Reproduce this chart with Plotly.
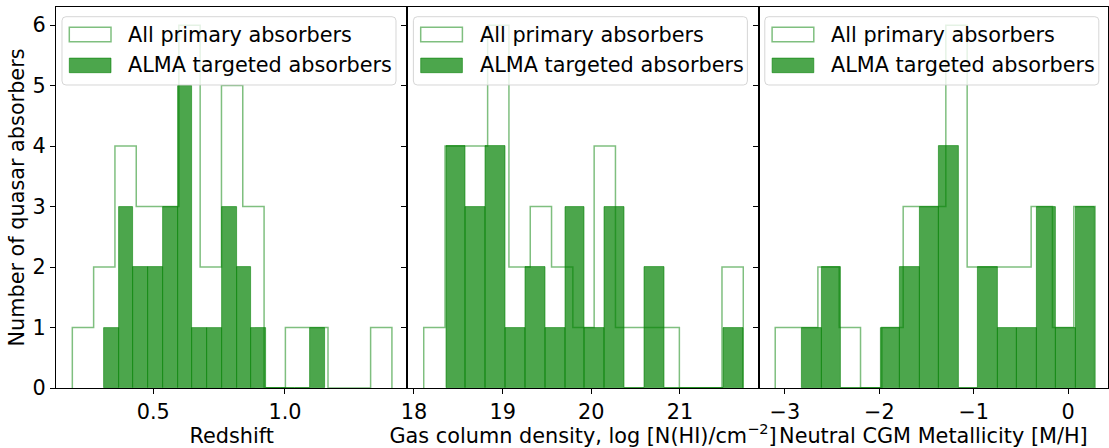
import numpy as np
import plotly.graph_objects as go
from plotly.subplots import make_subplots

# ---------------- data ----------------
n_bins = 15

z_all_range = [0.1926, 1.4062]
z_all_counts = [1, 2, 4, 3, 3, 6, 2, 5, 3, 0, 1, 1, 0, 0, 1]
z_alma_range = [0.3128, 1.1519]
z_alma_counts = [1, 3, 2, 2, 3, 5, 1, 1, 3, 2, 1, 0, 0, 0, 1]

nhi_all_range = [18.110, 21.714]
nhi_all_counts = [1, 4, 4, 6, 2, 3, 2, 1, 4, 1, 1, 1, 0, 0, 2]
nhi_alma_range = [18.361, 21.714]
nhi_alma_counts = [4, 3, 4, 1, 2, 1, 3, 1, 3, 0, 2, 0, 0, 0, 1]

met_all_range = [-3.103, 0.286]
met_all_counts = [1, 1, 2, 1, 0, 1, 3, 3, 6, 2, 2, 2, 3, 1, 3]
met_alma_range = [-2.817, 0.286]
met_alma_counts = [1, 2, 0, 0, 1, 2, 3, 4, 0, 2, 1, 1, 3, 1, 3]

x_titles = ["Redshift",
            "Gas column density, log [N(HI)/cm<sup>\u22122</sup>]",
            "Neutral CGM Metallicity [M/H]"]
y_title = "Number of quasar absorbers"

x_tickvals = [[0.5, 1.0], [18, 19, 20, 21], [-3, -2, -1, 0]]
x_ticktext = [["0.5", "1.0"], ["18", "19", "20", "21"],
              ["\u22123", "\u22122", "\u22121", "0"]]
x_ranges = [[0.1306, 1.465], [17.926, 21.889], [-3.277, 0.4225]]
y_tickvals = [0, 1, 2, 3, 4, 5, 6]
y_range = [0, 6.3]

legend_labels = ["All primary absorbers", "ALMA targeted absorbers"]

# ---------------- style ----------------
FONT = "DejaVu Sans"
FS = 20.8
W, H = 1109, 448
ML, MR, MT, MB = 56, 1, 7, 60
PW = W - ML - MR
PH = H - MT - MB
panel_px = [56, 407.4, 758.8, 1108]
domains = [[(panel_px[i] - ML) / PW, (panel_px[i + 1] - ML) / PW] for i in range(3)]
domains[2][1] = 1.0

fill_col = "rgba(0,128,0,0.7)"
step_col = "rgba(0,128,0,0.5)"

panels = [
    (z_all_range, z_all_counts, z_alma_range, z_alma_counts),
    (nhi_all_range, nhi_all_counts, nhi_alma_range, nhi_alma_counts),
    (met_all_range, met_all_counts, met_alma_range, met_alma_counts),
]

fig = make_subplots(rows=1, cols=3, shared_yaxes=True, horizontal_spacing=0)

for i, (arng, acnt, brng, bcnt) in enumerate(panels):
    col = i + 1
    # ALMA targeted: filled bar histogram
    bedges = np.linspace(brng[0], brng[1], n_bins + 1)
    centers = 0.5 * (bedges[:-1] + bedges[1:])
    widths = np.diff(bedges)
    fig.add_trace(go.Bar(x=centers, y=bcnt, width=widths,
                         marker=dict(color=fill_col,
                                     line=dict(color=fill_col, width=0.8)),
                         name=legend_labels[1], showlegend=False),
                  row=1, col=col)
    # All primary: step outline histogram
    aedges = np.linspace(arng[0], arng[1], n_bins + 1)
    sx = [aedges[0]] + list(aedges[:-1]) + [aedges[-1]]
    sy = [0] + list(acnt) + [0]
    fig.add_trace(go.Scatter(x=sx, y=sy, mode="lines", line_shape="hv",
                             line=dict(color=step_col, width=1.5),
                             name=legend_labels[0], showlegend=False,
                             hoverinfo="skip"),
                  row=1, col=col)

axis_common = dict(showline=True, linecolor="black", linewidth=1, mirror=True,
                   ticks="outside", ticklen=5, tickwidth=1, tickcolor="black",
                   showgrid=False, zeroline=False,
                   tickfont=dict(family=FONT, size=FS, color="black"))

for i in range(3):
    xa = "xaxis" if i == 0 else f"xaxis{i+1}"
    ya = "yaxis" if i == 0 else f"yaxis{i+1}"
    ycfg = dict(axis_common, range=y_range, tickvals=y_tickvals,
                showticklabels=(i == 0))
    if i == 0:
        ycfg["title"] = dict(text=y_title, standoff=2,
                             font=dict(family=FONT, size=FS, color="black"))
    fig.update_layout({
        xa: dict(axis_common, domain=domains[i], range=x_ranges[i],
                 tickvals=x_tickvals[i], ticktext=x_ticktext[i],
                 title=dict(text=x_titles[i], standoff=6,
                            font=dict(family=FONT, size=FS, color="black"))),
        ya: ycfg,
    })

# ---------------- per-panel legends (drawn like matplotlib) ----------------
def px_x(p):
    return (p - ML) / PW

def px_y(p):
    return (H - MB - p) / PH

def rounded_path(x0, y0, x1, y1, r):
    rx, ry = r / PW, r / PH
    X0, X1 = px_x(x0), px_x(x1)
    Y0, Y1 = px_y(y0), px_y(y1)  # Y0 top (bigger), Y1 bottom
    return (f"M {X0+rx},{Y0} L {X1-rx},{Y0} Q {X1},{Y0} {X1},{Y0-ry} "
            f"L {X1},{Y1+ry} Q {X1},{Y1} {X1-rx},{Y1} "
            f"L {X0+rx},{Y1} Q {X0},{Y1} {X0},{Y1+ry} "
            f"L {X0},{Y0-ry} Q {X0},{Y0} {X0+rx},{Y0} Z")

shapes = []
annotations = []
row_centers = [34.5, 65.4]
hw, hh = 41.7, 14.6
for i in range(3):
    left = panel_px[i]
    shapes.append(dict(type="path", xref="paper", yref="paper", layer="above",
                       path=rounded_path(left + 6, 16.7, left + 340, 85, 4),
                       fillcolor="rgba(255,255,255,0.8)",
                       line=dict(color="rgba(204,204,204,0.8)", width=1)))
    hx0 = left + 13.3
    for r, yc in enumerate(row_centers):
        if r == 0:
            fc, lc, lw = "rgba(0,0,0,0)", step_col, 1.5
        else:
            fc, lc, lw = fill_col, fill_col, 0.8
        shapes.append(dict(type="rect", xref="paper", yref="paper", layer="above",
                           x0=px_x(hx0), x1=px_x(hx0 + hw),
                           y0=px_y(yc + hh / 2), y1=px_y(yc - hh / 2),
                           fillcolor=fc, line=dict(color=lc, width=lw)))
        annotations.append(dict(xref="paper", yref="paper", showarrow=False,
                                x=px_x(hx0 + 57), y=px_y(yc),
                                xanchor="left", yanchor="middle",
                                text=legend_labels[r],
                                font=dict(family=FONT, size=FS, color="black")))

fig.update_layout(width=W, height=H, margin=dict(l=ML, r=MR, t=MT, b=MB),
                  paper_bgcolor="white", plot_bgcolor="white",
                  barmode="overlay", bargap=0, showlegend=False,
                  shapes=shapes, annotations=annotations,
                  font=dict(family=FONT, size=FS, color="black"))

fig.write_html("out.html")
